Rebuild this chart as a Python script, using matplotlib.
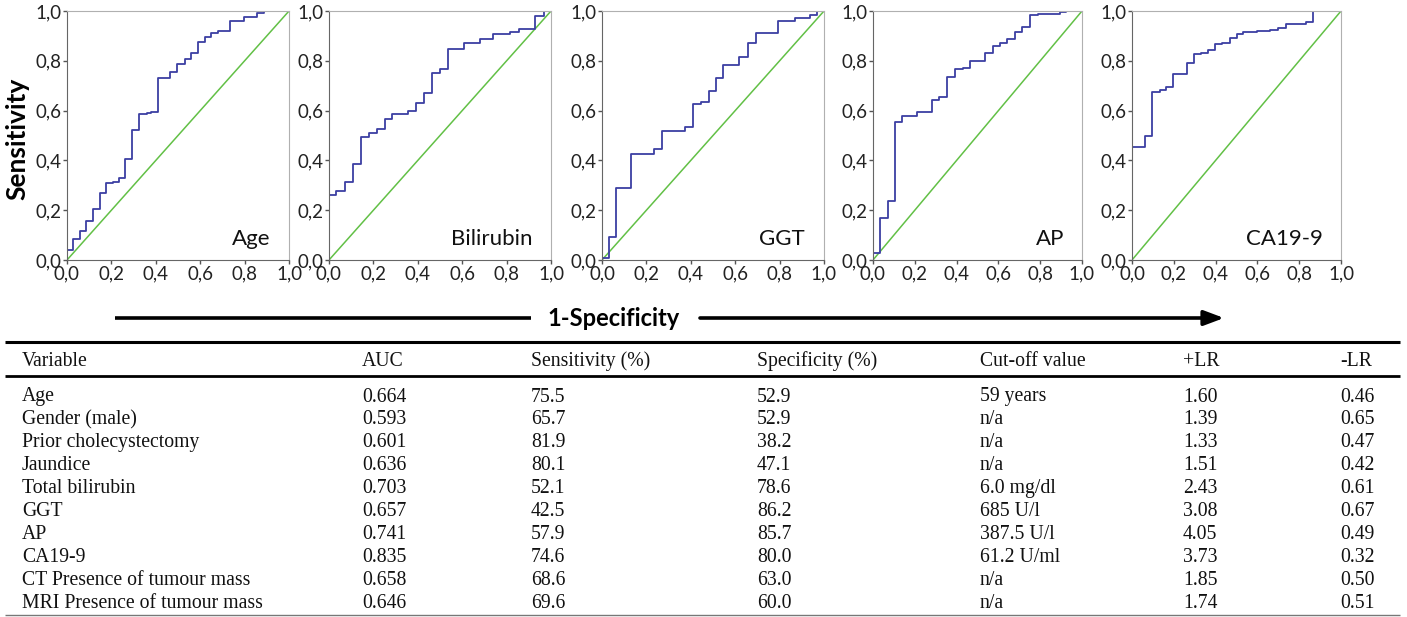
import matplotlib
matplotlib.use("Agg")
import matplotlib.pyplot as plt
from matplotlib.ticker import FuncFormatter

W, H = 1407, 617

# ROC step curves: x = 1-specificity break points, y = sensitivity levels
panel_names = ["Age", "Bilirubin", "GGT", "AP", "CA19-9"]

age_x = [0.0, 0.027, 0.057, 0.087, 0.117, 0.147, 0.177, 0.207, 0.233, 0.263, 0.293, 0.323,
         0.36, 0.38, 0.41, 0.465, 0.495, 0.53, 0.56, 0.59, 0.62, 0.65, 0.68, 0.736, 0.796,
         0.856, 0.886, 1.0]
age_y = [0.04, 0.084, 0.118, 0.158, 0.205, 0.268, 0.308, 0.312, 0.33, 0.404, 0.522, 0.586,
         0.589, 0.593, 0.73, 0.756, 0.786, 0.807, 0.833, 0.874, 0.894, 0.91, 0.921, 0.961,
         0.977, 0.99, 1.0, 1.0]

bili_x = [0.0, 0.033, 0.071, 0.108, 0.145, 0.18, 0.217, 0.253, 0.286, 0.357, 0.392, 0.428,
          0.464, 0.5, 0.536, 0.61, 0.68, 0.74, 0.816, 0.858, 0.929, 0.967, 1.0]
bili_y = [0.26, 0.278, 0.315, 0.386, 0.493, 0.509, 0.525, 0.566, 0.585, 0.598, 0.629, 0.672,
          0.752, 0.766, 0.847, 0.873, 0.889, 0.906, 0.917, 0.926, 0.98, 1.0, 1.0]

ggt_x = [0.0, 0.03, 0.064, 0.132, 0.232, 0.27, 0.375, 0.409, 0.447, 0.48, 0.514, 0.547,
         0.619, 0.657, 0.694, 0.795, 0.87, 0.937, 0.967, 1.0]
ggt_y = [0.007, 0.094, 0.288, 0.424, 0.444, 0.519, 0.535, 0.627, 0.633, 0.68, 0.732, 0.783,
         0.817, 0.87, 0.91, 0.961, 0.97, 0.984, 1.0, 1.0]

ap_x = [0.0, 0.035, 0.07, 0.107, 0.138, 0.21, 0.28, 0.318, 0.353, 0.393, 0.43, 0.464,
        0.536, 0.572, 0.607, 0.642, 0.679, 0.715, 0.75, 0.79, 0.894, 0.925, 1.0]
ap_y = [0.03, 0.167, 0.237, 0.556, 0.578, 0.596, 0.643, 0.656, 0.736, 0.767, 0.772, 0.799,
        0.83, 0.859, 0.873, 0.886, 0.914, 0.934, 0.984, 0.988, 0.997, 1.0, 1.0]

ca_x = [0.0, 0.061, 0.097, 0.133, 0.165, 0.196, 0.264, 0.297, 0.332, 0.364, 0.396, 0.433,
        0.468, 0.5, 0.532, 0.596, 0.66, 0.7, 0.736, 0.832, 0.867, 1.0]
ca_y = [0.455, 0.498, 0.676, 0.683, 0.693, 0.747, 0.79, 0.826, 0.833, 0.843, 0.866, 0.873,
        0.89, 0.908, 0.914, 0.92, 0.924, 0.93, 0.948, 0.955, 1.0, 1.0]

curves = [(age_x, age_y), (bili_x, bili_y), (ggt_x, ggt_y), (ap_x, ap_y), (ca_x, ca_y)]

# table
col_headers = ["Variable", "AUC", "Sensitivity (%)", "Specificity (%)", "Cut-off value", "+LR", "-LR"]
variables = ["Age", "Gender (male)", "Prior cholecystectomy", "Jaundice", "Total bilirubin",
             "GGT", "AP", "CA19-9", "CT Presence of tumour mass", "MRI Presence of tumour mass"]
auc = ["0.664", "0.593", "0.601", "0.636", "0.703", "0.657", "0.741", "0.835", "0.658", "0.646"]
sens = ["75.5", "65.7", "81.9", "80.1", "52.1", "42.5", "57.9", "74.6", "68.6", "69.6"]
spec = ["52.9", "52.9", "38.2", "47.1", "78.6", "86.2", "85.7", "80.0", "63.0", "60.0"]
cutoff = ["59 years", "n/a", "n/a", "n/a", "6.0 mg/dl", "685 U/l", "387.5 U/l", "61.2 U/ml",
          "n/a", "n/a"]
plus_lr = ["1.60", "1.39", "1.33", "1.51", "2.43", "3.08", "4.05", "3.73", "1.85", "1.74"]
minus_lr = ["0.46", "0.65", "0.47", "0.42", "0.61", "0.67", "0.49", "0.32", "0.50", "0.51"]

BLUE = "#3c3fa3"
GREEN = "#62c046"

fig = plt.figure(figsize=(W / 100, H / 100), dpi=100)


def px_axes(x0, y0, x1, y1):
    return fig.add_axes([x0 / W, 1 - y1 / H, (x1 - x0) / W, (y1 - y0) / H])


comma = FuncFormatter(lambda v, p: ("%.1f" % v).replace(".", ","))
panel_px = [(67, 289), (329, 551), (602, 824), (873, 1082), (1132, 1341)]

for (x0, x1), name, (cx, cy) in zip(panel_px, panel_names, curves):
    ax = px_axes(x0, 11, x1, 260)
    ax.plot([0, 1], [0, 1], color=GREEN, lw=1.1)
    ax.plot([0] + cx, [0] + cy, drawstyle="steps-post", color=BLUE, lw=1.3)
    ax.set_xlim(0, 1)
    ax.set_ylim(0, 1)
    ax.set_xticks([0, 0.2, 0.4, 0.6, 0.8, 1.0])
    ax.set_yticks([0, 0.2, 0.4, 0.6, 0.8, 1.0])
    ax.xaxis.set_major_formatter(comma)
    ax.yaxis.set_major_formatter(comma)
    ax.tick_params(direction="out", length=3, width=1, color="#555555",
                   labelsize=13.5, labelcolor="#222222", pad=1)
    for lab in ax.get_xticklabels() + ax.get_yticklabels():
        lab.set_family("Lato")
    for s in ["left", "bottom"]:
        ax.spines[s].set_color("#666666")
    for s in ["top", "right"]:
        ax.spines[s].set_color("#b0b0b0")
    ax.text(0.915, 0.06, name, transform=ax.transAxes, ha="right", va="baseline",
            fontsize=16, family="Lato", color="#111111")

# overlay in pixel coordinates for labels, arrow and the table
ov = fig.add_axes([0, 0, 1, 1], zorder=-1)
ov.set_xlim(0, W)
ov.set_ylim(H, 0)
ov.axis("off")

ov.text(17, 139, "Sensitivity", rotation=90, ha="center", va="center",
        fontsize=19, fontweight="bold", family="Lato")

ov.plot([115, 531], [318, 318], color="black", lw=2.6, solid_capstyle="butt")
ov.annotate("", xy=(1224, 318), xytext=(700, 318),
            arrowprops=dict(arrowstyle="-|>,head_length=1.2,head_width=0.45",
                            lw=2.6, color="black", shrinkA=0, shrinkB=0))
ov.text(614, 318, "1-Specificity", ha="center", va="center", fontsize=17,
        fontweight="bold", family="Lato")

ov.plot([5, 1400], [342, 342], color="black", lw=2.2, solid_capstyle="butt")
ov.plot([5, 1400], [376, 376], color="black", lw=2.0, solid_capstyle="butt")
ov.plot([5, 1400], [615, 615], color="#777777", lw=1.0, solid_capstyle="butt")

col_x = [22, 362, 531, 757, 980, 1183, 1340]
tfont = dict(fontsize=14.2, family="Liberation Serif", color="#111111", va="center", ha="left")
for x, h in zip(col_x, col_headers):
    ov.text(x, 361, h, **tfont)
row_y0, row_dy = 397, 22.9
for i, row in enumerate(zip(variables, auc, sens, spec, cutoff, plus_lr, minus_lr)):
    for x, v in zip(col_x, row):
        ov.text(x, row_y0 + i * row_dy, v, **tfont)

fig.savefig("out.png", dpi=100)
